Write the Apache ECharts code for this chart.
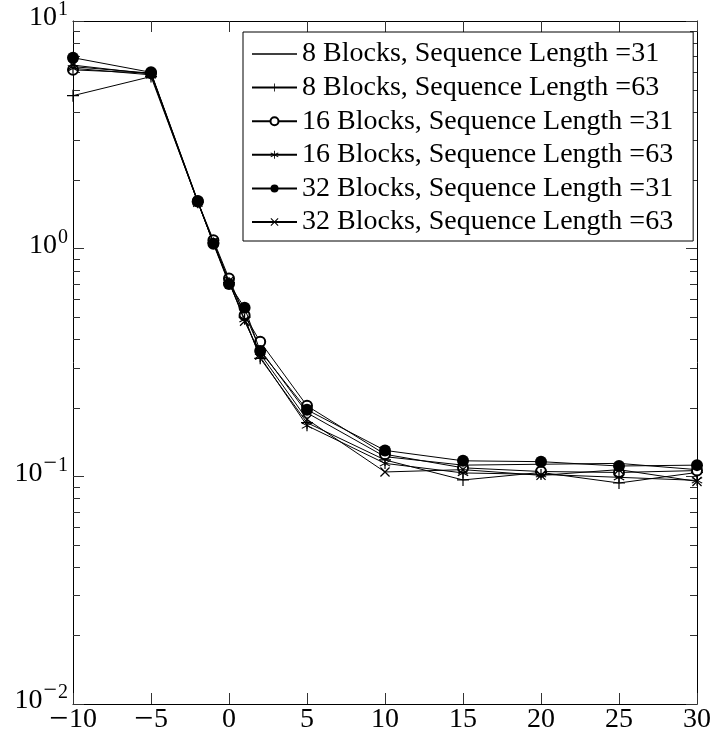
<!DOCTYPE html>
<html>
<head>
<meta charset="utf-8">
<script src="https://cdn.jsdelivr.net/npm/echarts@6/dist/echarts.min.js"></script>
<style>
html,body{margin:0;padding:0;background:#fff;}
#chart{width:724px;height:732px;}
</style>
</head>
<body>
<div id="chart"></div>
<script>
// ---- data ----
const xs = [-10, -5, -2, -1, 0, 1, 2, 5, 10, 15, 20, 25, 30];
const seriesNames = [
  '8 Blocks, Sequence Length =31',
  '8 Blocks, Sequence Length =63',
  '16 Blocks, Sequence Length =31',
  '16 Blocks, Sequence Length =63',
  '32 Blocks, Sequence Length =31',
  '32 Blocks, Sequence Length =63'
];
const b8_31  = [6.3, 5.9, 1.61, 1.07, 0.72, 0.52, 0.36, 0.19, 0.122, 0.112, 0.113, 0.114, 0.107];
const b8_63  = [4.7, 5.7, 1.60, 1.06, 0.71, 0.50, 0.33, 0.172, 0.118, 0.0964, 0.104, 0.0935, 0.104];
const b16_31 = [6.1, 5.9, 1.61, 1.09, 0.74, 0.51, 0.39, 0.204, 0.125, 0.109, 0.105, 0.104, 0.106];
const b16_63 = [6.2, 5.8, 1.60, 1.06, 0.71, 0.49, 0.335, 0.167, 0.114, 0.1035, 0.102, 0.099, 0.096];
const b32_31 = [6.9, 5.95, 1.62, 1.05, 0.70, 0.55, 0.355, 0.196, 0.130, 0.117, 0.116, 0.111, 0.112];
const b32_63 = [6.4, 5.85, 1.60, 1.07, 0.72, 0.48, 0.345, 0.178, 0.1045, 0.107, 0.101, 0.107, 0.095];
const yMajor = [0.01, 0.1, 1, 10];
const yMinor = [0.02,0.03,0.04,0.05,0.06,0.07,0.08,0.09,
                0.2,0.3,0.4,0.5,0.6,0.7,0.8,0.9,
                2,3,4,5,6,7,8,9];

// ---- styling ----
const FONT = 'Liberation Serif';
const plusPath  = 'path://M-0.1,-1L0.1,-1L0.1,-0.1L1,-0.1L1,0.1L0.1,0.1L0.1,1L-0.1,1L-0.1,0.1L-1,0.1L-1,-0.1L-0.1,-0.1Z';
const starPath  = 'path://M-0.1,1L0.1,1L0.1,-1L-0.1,-1Z M0.816,0.587L0.916,0.413L-0.816,-0.587L-0.916,-0.413Z M-0.916,0.413L-0.816,0.587L0.916,-0.413L0.816,-0.587Z';
const crossPath = 'path://M0.636,0.778L0.778,0.636L-0.636,-0.778L-0.778,-0.636Z M-0.778,0.636L-0.636,0.778L0.778,-0.636L0.636,-0.778Z';
const plainLineIcon = 'path://M0,0H45V1.3H0Z';

const values = [b8_31, b8_63, b16_31, b16_63, b32_31, b32_63];
const markers = [
  {symbol:'none', size:0, item:{color:'#000'}},
  {symbol:plusPath, size:12, item:{color:'#000', borderWidth:0}},
  {symbol:'emptyCircle', size:10, item:{color:'#000', borderWidth:1}},
  {symbol:starPath, size:11, item:{color:'#000', borderWidth:0}},
  {symbol:'circle', size:12, item:{color:'#000', borderWidth:0}},
  {symbol:crossPath, size:10, item:{color:'#000', borderWidth:0}}
];

const fmtX = v => (v < 0 ? '{m|\u2212}{n|' + Math.abs(v) + '}' : '{n|' + v + '}');
const fmtPow = v => {
  const e = Math.round(Math.log10(v));
  return '{b|10}' + (e < 0 ? '{sm|\u2212}{sup|' + Math.abs(e) + '}' : '{sup|' + e + '}');
};

const lineSeries = seriesNames.map((name, k) => ({
  name: name,
  type: 'line',
  data: xs.map((x, i) => [x, values[k][i]]),
  symbol: markers[k].symbol,
  symbolSize: markers[k].size,
  showSymbol: markers[k].symbol !== 'none',
  itemStyle: markers[k].item,
  lineStyle: {color:'#000', width:1},
  emphasis: {disabled: true},
  animation: false,
  z: 3 + k
}));

const minorSeries = {
  type: 'custom',
  name: 'minorTicks',
  silent: true,
  clip: false,
  animation: false,
  z: 2,
  data: yMinor.map(v => [-10, v]),
  renderItem: (params, api) => {
    const v = api.value(1);
    const l = api.coord([-10, v]);
    const r = api.coord([30, v]);
    const y = Math.round(l[1]) + 0.5;
    return {type:'group', children:[
      {type:'line', shape:{x1:l[0], y1:y, x2:l[0] + 7, y2:y}, style:{stroke:'#333', lineWidth:1}},
      {type:'line', shape:{x1:r[0] - 7, y1:y, x2:r[0], y2:y}, style:{stroke:'#333', lineWidth:1}}
    ]};
  }
};

const chart = echarts.init(document.getElementById('chart'), null, {renderer:'canvas'});
const axisLineStyle = {show:true, onZero:false, lineStyle:{color:'#000', width:1}};
const tickStyle = {show:true, inside:true, length:11, lineStyle:{color:'#333', width:1}};
const richY = {
  b:   {fontSize:28, lineHeight:28, fontFamily:FONT, color:'#000', verticalAlign:'bottom', padding:[0,0,3,0]},
  sm:  {fontSize:24, lineHeight:20, fontFamily:FONT, color:'#000', verticalAlign:'bottom', padding:[0,0,15,1]},
  sup: {fontSize:20, lineHeight:20, fontFamily:FONT, color:'#000', verticalAlign:'bottom', padding:[0,0,15,1]}
};
const richX = {
  m: {fontSize:34, lineHeight:26, fontFamily:FONT, color:'#000', padding:[0,1,0,0]},
  n: {fontSize:28, lineHeight:26, fontFamily:FONT, color:'#000'}
};

chart.setOption({
  animation: false,
  backgroundColor: '#fff',
  grid: {left:73, right:27, top:21, bottom:28, containLabel:false, outerBoundsMode:'none'},
  legend: {
    data: seriesNames.map((n, k) => (k === 0 ? {name:n, icon:plainLineIcon} : {name:n})),
    orient: 'vertical',
    left: 243,
    top: 32,
    padding: [8, 20, 5, 8],
    itemGap: 5.6,
    itemWidth: 45,
    itemHeight: 10,
    symbolKeepAspect: true,
    backgroundColor: '#fff',
    borderColor: '#000',
    borderWidth: 1,
    selectedMode: false,
    textStyle: {fontFamily:FONT, fontSize:28, lineHeight:28, color:'#000'}
  },
  xAxis: [
    {
      type:'value', min:-10, max:30, interval:5, position:'bottom',
      axisLine: axisLineStyle, axisTick: tickStyle, splitLine:{show:false},
      axisLabel: {formatter: fmtX, rich: richX, margin:3}
    },
    {
      type:'value', min:-10, max:30, interval:5, position:'top',
      axisLine: axisLineStyle, axisTick: tickStyle, splitLine:{show:false},
      axisLabel: {show:false}
    }
  ],
  yAxis: [
    {
      type:'log', logBase:10, min:yMajor[0], max:yMajor[yMajor.length-1], splitNumber:3, position:'left',
      axisLine: axisLineStyle, axisTick: tickStyle, splitLine:{show:false},
      axisLabel: {formatter: fmtPow, rich: richY, margin:5}
    },
    {
      type:'log', logBase:10, min:yMajor[0], max:yMajor[yMajor.length-1], splitNumber:3, position:'right',
      axisLine: axisLineStyle, axisTick: tickStyle, splitLine:{show:false},
      axisLabel: {show:false}
    }
  ],
  series: [minorSeries].concat(lineSeries)
});
</script>
</body>
</html>
